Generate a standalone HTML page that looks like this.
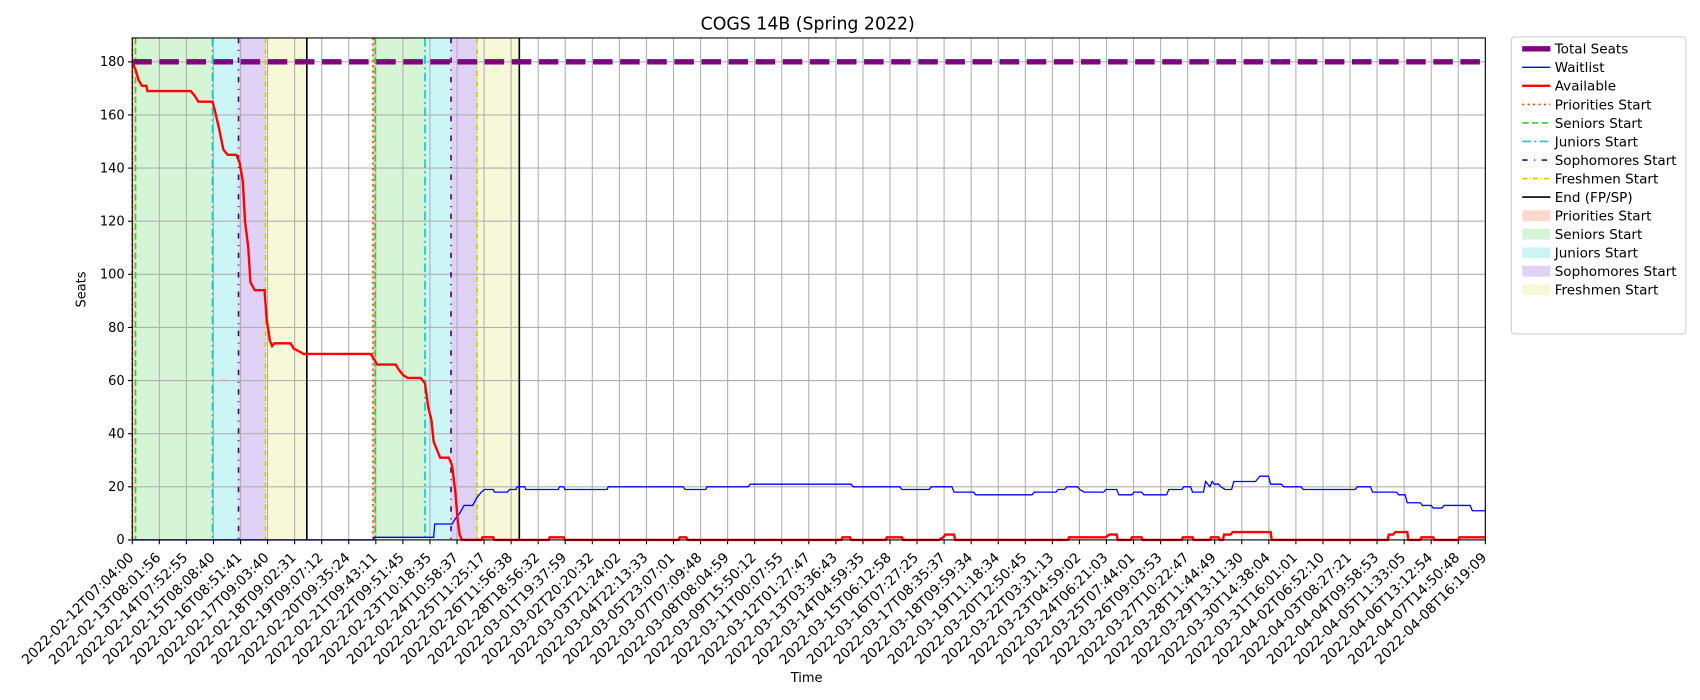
<!DOCTYPE html>
<html><head><meta charset="utf-8"><style>
body{margin:0;background:#fff;font-family:"Liberation Sans","DejaVu Sans",sans-serif}
svg text{font-family:"DejaVu Sans","Liberation Sans",sans-serif}
</style></head><body>
<svg id="chart" width="1700" height="700" viewBox="0 0 1568 645.65" preserveAspectRatio="none" xmlns="http://www.w3.org/2000/svg" style="display:block"></svg>
<script>
const yTicks=[0,20,40,60,80,100,120,140,160,180];
const xTickLabels=["2022-02-12T07:04:00","2022-02-13T08:01:56","2022-02-14T07:52:55","2022-02-15T08:08:40","2022-02-16T08:51:41","2022-02-17T09:03:40","2022-02-18T09:02:31","2022-02-19T09:07:12","2022-02-20T09:35:24","2022-02-21T09:43:11","2022-02-22T09:51:45","2022-02-23T10:18:35","2022-02-24T10:58:37","2022-02-25T11:25:17","2022-02-26T11:56:38","2022-02-28T18:56:32","2022-03-01T19:37:59","2022-03-02T20:20:32","2022-03-03T21:24:02","2022-03-04T22:13:33","2022-03-05T23:07:01","2022-03-07T07:09:48","2022-03-08T08:04:59","2022-03-09T15:50:12","2022-03-11T00:07:55","2022-03-12T01:27:47","2022-03-13T03:36:43","2022-03-14T04:59:35","2022-03-15T06:12:58","2022-03-16T07:27:25","2022-03-17T08:35:37","2022-03-18T09:59:34","2022-03-19T11:18:34","2022-03-20T12:50:45","2022-03-22T03:31:13","2022-03-23T04:59:02","2022-03-24T06:21:03","2022-03-25T07:44:01","2022-03-26T09:03:53","2022-03-27T10:22:47","2022-03-28T11:44:49","2022-03-29T13:11:30","2022-03-30T14:38:04","2022-03-31T16:01:01","2022-04-02T06:52:10","2022-04-03T08:27:21","2022-04-04T09:58:53","2022-04-05T11:33:05","2022-04-06T13:12:54","2022-04-07T14:50:48","2022-04-08T16:19:09"];
const totalSeats=180;
const available=[[0,180],[3,177],[6,173],[9,171],[13,171],[14,169],[54,169],[58,167],[61,165],[74,165],[76,162],[80,155],[84,147],[88,145],[96,145],[99,142],[102,135],[104,120],[107,110],[109,97],[113,94],[122,94],[124,83],[127,75],[129,73],[131,74],[146,74],[149,72],[154,71],[158,70],[161,70],[220,70],[223,68],[226,66],[243,66],[246,64],[250,62],[254,61],[266,61],[268,60],[270,59],[273,50],[276,45],[278,37],[282,33],[284,31],[292,31],[295,28],[298,18],[300,8],[302,2],[304,0],[322,0],[323,1],[333,1],[334,0],[384,0],[385,1],[398,1],[399,0],[504,0],[505,1],[511,1],[512,0],[654,0],[655,1],[662,1],[663,0],[695,0],[696,1],[710,1],[711,0],[744,0],[748,1],[750,2],[758,2],[759,0],[863,0],[864,1],[898,1],[901,2],[908,2],[909,0],[921,0],[922,1],[931,1],[932,0],[968,0],[969,1],[978,1],[979,0],[994,0],[995,1],[1002,1],[1003,0],[1006,0],[1007,2],[1013,2],[1015,3],[1050,3],[1051,0],[1158,0],[1159,2],[1163,2],[1165,3],[1176,3],[1177,0],[1188,0],[1189,1],[1200,1],[1201,0],[1223,0],[1224,1],[1248,1]];
const waitlist=[[0,0],[223,0],[223,1],[278,1],[279,6],[295,6],[298,8],[302,10],[306,13],[314,13],[318,16],[322,18],[325,19],[333,19],[334,18],[346,18],[348,19],[354,19],[355,20],[362,20],[363,19],[393,19],[394,20],[398,20],[399,19],[438,19],[439,20],[508,20],[510,19],[529,19],[530,20],[568,20],[570,21],[663,21],[665,20],[708,20],[710,19],[735,19],[737,20],[756,20],[758,18],[776,18],[778,17],[830,17],[832,18],[852,18],[854,19],[860,19],[862,20],[872,20],[874,19],[878,18],[896,18],[898,19],[908,19],[910,17],[922,17],[924,18],[931,18],[933,17],[954,17],[956,19],[968,19],[970,20],[976,20],[978,18],[988,18],[990,22],[994,20],[996,22],[998,21],[1002,21],[1004,20],[1008,19],[1014,19],[1016,22],[1036,22],[1038,23],[1040,24],[1048,24],[1050,21],[1060,21],[1062,20],[1078,20],[1080,19],[1128,19],[1130,20],[1142,20],[1144,18],[1166,18],[1168,17],[1174,17],[1176,14],[1188,14],[1190,13],[1198,13],[1200,12],[1208,12],[1210,13],[1234,13],[1236,11],[1248,11]];
const phaseNames=["Priorities Start","Seniors Start","Juniors Start","Sophomores Start","Freshmen Start"];
const phaseStarts1=[0,3,74,98,123];
const phaseStarts2=[222,224,270,294,318];
const endPoints=[161,357];

const NS="http://www.w3.org/2000/svg";
const svg=document.getElementById('chart');
const L=122,R=1370,T=35,B=498,XMAX=1248,YMAX=189;
const xs=v=>L+v/XMAX*(R-L);
const ys=v=>B-v/YMAX*(B-T);
function mk(tag,attrs,parent){const e=document.createElementNS(NS,tag);for(const k in attrs)e.setAttribute(k,attrs[k]);(parent||svg).appendChild(e);return e;}
const lineStyles=[{c:"#ff4500",d:"2,3"},{c:"#32cd32",d:"6,3"},{c:"#00ced1",d:"8,3,2,3"},{c:"#4b0082",d:"5,6,1,6"},{c:"#cccc00",d:"5,2,1,2"}];
const fills=["#fcd9cc","#d6f5d6","#ccf5f6","#e0d2f6","#f7f8d8"];
[phaseStarts1,phaseStarts2].forEach((arr,k)=>{
  arr.forEach((s,i)=>{const e=i<arr.length-1?arr[i+1]:endPoints[k];
    const r=mk('rect',{x:xs(s),y:T,width:xs(e)-xs(s),height:B-T,fill:fills[i]});
    
    });
});
const grid=mk('g',{stroke:"#b0b0b0","stroke-width":1});


const n=xTickLabels.length;
const xt=i=>L+i*(R-L)/(n-1);
xTickLabels.forEach((lab,i)=>{mk('line',{x1:xt(i),x2:xt(i),y1:T,y2:B},grid);});
yTicks.forEach(v=>mk('line',{x1:L,x2:R,y1:ys(v),y2:ys(v)},grid));
[phaseStarts1,phaseStarts2].forEach(arr=>arr.forEach((s,i)=>{
  const l=mk('line',{x1:xs(s),x2:xs(s),y1:T,y2:B,stroke:lineStyles[i].c,"stroke-width":1.5,"stroke-dasharray":lineStyles[i].d});
  
  }));
endPoints.forEach(s=>{const l=mk('line',{x1:xs(s),x2:xs(s),y1:T,y2:B,stroke:"#000","stroke-width":1.5});
  
  });
const ts=mk('line',{x1:L,x2:R,y1:ys(totalSeats),y2:ys(totalSeats),stroke:"#800080","stroke-width":5,"stroke-dasharray":"18,7"});


const pts=a=>a.map(p=>xs(p[0]).toFixed(1)+","+ys(p[1]).toFixed(1)).join(" ");
const wl=mk('polyline',{points:pts(waitlist),fill:"none",stroke:"#0000ff","stroke-width":1.2});


const av=mk('polyline',{points:pts(available),fill:"none",stroke:"#ff0000","stroke-width":2.2});


const fr=mk('rect',{x:L,y:T,width:R-L,height:B-T,fill:"none",stroke:"#000","stroke-width":1});


yTicks.forEach(v=>{mk('line',{x1:L-4,x2:L,y1:ys(v),y2:ys(v),stroke:"#000"});
  const t=mk('text',{x:L-7,y:ys(v)+4,"text-anchor":"end","font-size":12});t.textContent=v;
  
  });
xTickLabels.forEach((lab,i)=>{const x=xt(i);mk('line',{x1:x,x2:x,y1:B,y2:B+4,stroke:"#000"});
  const ax=x+2, ay=B+17;
  const t=mk('text',{x:ax,y:ay,"text-anchor":"end","font-size":12.8,transform:`rotate(-45 ${ax} ${ay})`});t.textContent=lab;
  
  });
let t=mk('text',{x:745,y:27,"text-anchor":"middle","font-size":16});t.textContent="COGS 14B (Spring 2022)";


t=mk('text',{x:744,y:629,"text-anchor":"middle","font-size":12});t.textContent="Time";


t=mk('text',{x:79,y:267,"text-anchor":"middle","font-size":12,transform:"rotate(-90 79 267)"});t.textContent="Seats";


const lg=mk('g',{});


mk('rect',{x:1394,y:34,width:161,height:274,rx:3,fill:"#fff",stroke:"#d0d0d0"},lg);
const entries=[["Total Seats","line","#800080","",5],["Waitlist","line","#0000ff","",1.2],["Available","line","#ff0000","",2.2]];
phaseNames.forEach((nm,i)=>entries.push([nm,"line",lineStyles[i].c,lineStyles[i].d,1.5]));
entries.push(["End (FP/SP)","line","#000","",1.5]);
phaseNames.forEach((nm,i)=>entries.push([nm,"patch",fills[i]]));
entries.forEach((e,i)=>{const y=45+i*17.1;
  if(e[1]==="line")mk('line',{x1:1404,x2:1430,y1:y,y2:y,stroke:e[2],"stroke-width":e[4],"stroke-dasharray":e[3]},lg);
  else mk('rect',{x:1404,y:y-5,width:26,height:10,fill:e[2]},lg);
  const tx=mk('text',{x:1434,y:y+4.5,"font-size":12.5},lg);tx.textContent=e[0];
  
  });
</script>
</body></html>
